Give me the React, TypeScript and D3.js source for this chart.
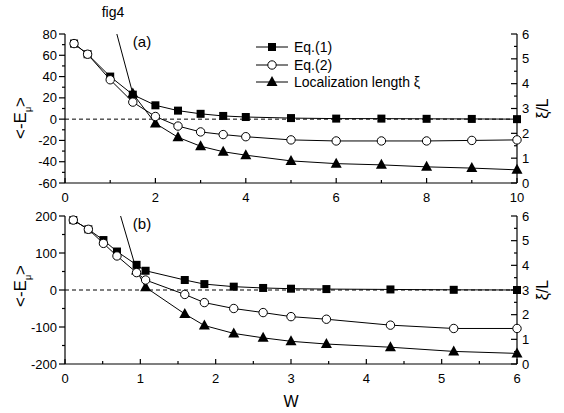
import React from 'react';
import * as d3 from 'd3';

// panel (a)
const wA = [0.2, 0.5, 1, 1.5, 2, 2.5, 3, 3.5, 4, 5, 6, 7, 8, 9, 10];
const eq1A = [71, 61, 40, 23, 13, 8, 5, 3, 2, 1, 0.5, 0.5, 0.3, 0.2, 0];
const eq2A = [71, 61, 37, 16, 2.5, -6.5, -12, -14.5, -16.5, -19.5, -20.5, -20.5, -20.5, -20, -19.5];
const xiWA = [1, 1.5, 2, 2.5, 3, 3.5, 4, 5, 6, 7, 8, 9, 10];
const xiA = [7.0, 3.6, 2.4, 1.84, 1.48, 1.26, 1.12, 0.89, 0.78, 0.73, 0.65, 0.6, 0.53];

// panel (b)
const wB = [0.11, 0.31, 0.51, 0.69, 0.95, 1.07, 1.59, 1.85, 2.24, 2.63, 3.0, 3.47, 4.32, 5.16, 6];
const eq1B = [189, 164, 135, 104, 68, 52, 27, 16, 9, 5.5, 3.5, 2.5, 1.5, 0.5, 0];
const eq2B = [189, 164, 126, 92, 47, 27, -12, -34, -50, -61, -72, -79, -95, -104, -104];
const xiWB = [0.69, 0.95, 1.07, 1.59, 1.85, 2.24, 2.63, 3.0, 3.47, 4.32, 5.16, 6];
const xiB = [6.5, 3.79, 3.11, 2.03, 1.56, 1.24, 1.06, 0.92, 0.81, 0.68, 0.51, 0.43];

const legendLabels = ['Eq.(1)', 'Eq.(2)', 'Localization length ξ'];

const FONT = 'Arial, "Liberation Sans", Helvetica, sans-serif';
const L = 65, R = 517;

type PanelProps = {
  id: string;
  top: number;
  bottom: number;
  xMax: number;
  xMajor: number;
  yDomain: [number, number];
  yMajor: number;
  w: number[];
  eq1: number[];
  eq2: number[];
  xiW: number[];
  xi: number[];
  tag: string;
  labelY: number;
};

const Square = ({ x, y }: { x: number; y: number }) => (
  <rect x={x - 4} y={y - 4} width={8} height={8} fill="black" />
);
const Circle = ({ x, y }: { x: number; y: number }) => (
  <circle cx={x} cy={y} r={4.2} fill="white" stroke="black" strokeWidth={1} />
);
const Tri = ({ x, y }: { x: number; y: number }) => (
  <path d={`M${x},${y - 6}L${x + 5.5},${y + 4}L${x - 5.5},${y + 4}Z`} fill="black" />
);

function Panel(p: PanelProps) {
  const x = d3.scaleLinear().domain([0, p.xMax]).range([L, R]);
  const y = d3.scaleLinear().domain(p.yDomain).range([p.bottom, p.top]);
  const y2 = d3.scaleLinear().domain([0, 6]).range([p.bottom, p.top]);

  const xMajors = d3.range(0, p.xMax + 1e-9, p.xMajor);
  const xMinors = d3.range(p.xMajor / 2, p.xMax, p.xMajor);
  const yMajors = d3.range(p.yDomain[0], p.yDomain[1] + 1e-9, p.yMajor);
  const yMinors = d3.range(p.yDomain[0] + p.yMajor / 2, p.yDomain[1], p.yMajor);
  const y2Majors = d3.range(0, 7, 1);
  const y2Minors = d3.range(0.5, 6, 1);

  const line = d3.line<[number, number]>();
  const p1 = p.w.map((w, i) => [x(w), y(p.eq1[i])] as [number, number]);
  const p2 = p.w.map((w, i) => [x(w), y(p.eq2[i])] as [number, number]);
  const p3 = p.xiW.map((w, i) => [x(w), y2(p.xi[i])] as [number, number]);

  return (
    <g>
      <defs>
        <clipPath id={`clip-${p.id}`}>
          <rect x={L} y={p.top} width={R - L} height={p.bottom - p.top} />
        </clipPath>
      </defs>
      {/* zero line */}
      <line x1={L} x2={R} y1={y(0)} y2={y(0)} stroke="black" strokeWidth={1} strokeDasharray="4,3" />

      {/* axes */}
      <g stroke="black" strokeWidth={1.2} fill="none">
        <line x1={L} x2={L} y1={p.top} y2={p.bottom} />
        <line x1={R} x2={R} y1={p.top} y2={p.bottom} />
        <line x1={L} x2={R} y1={p.bottom} y2={p.bottom} />
        {xMajors.map((v) => <line key={'xm' + v} x1={x(v)} x2={x(v)} y1={p.bottom} y2={p.bottom - 5} />)}
        {xMinors.map((v) => <line key={'xn' + v} x1={x(v)} x2={x(v)} y1={p.bottom} y2={p.bottom - 3} />)}
        {yMajors.map((v) => <line key={'ym' + v} x1={L - 6} x2={L} y1={y(v)} y2={y(v)} />)}
        {yMinors.map((v) => <line key={'yn' + v} x1={L - 3} x2={L} y1={y(v)} y2={y(v)} />)}
        {y2Majors.map((v) => <line key={'rm' + v} x1={R - 6} x2={R} y1={y2(v)} y2={y2(v)} />)}
        {y2Minors.map((v) => <line key={'rn' + v} x1={R - 3} x2={R} y1={y2(v)} y2={y2(v)} />)}
      </g>
      <g fontFamily={FONT} fontSize={13} fill="black">
        {xMajors.map((v) => (
          <text key={'xl' + v} x={x(v)} y={p.bottom + 19} textAnchor="middle">{d3.format('~g')(v)}</text>
        ))}
        {yMajors.map((v) => (
          <text key={'yl' + v} x={L - 8} y={y(v) + 4.5} textAnchor="end">{v}</text>
        ))}
        {y2Majors.map((v) => (
          <text key={'rl' + v} x={R + 5} y={y2(v) + 4.5} textAnchor="start">{v}</text>
        ))}
      </g>

      {/* series */}
      <path d={line(p1) || ''} fill="none" stroke="black" strokeWidth={1} />
      <path d={line(p2) || ''} fill="none" stroke="black" strokeWidth={1} />
      <g clipPath={`url(#clip-${p.id})`}>
        <path d={line(p3) || ''} fill="none" stroke="black" strokeWidth={1} />
      </g>
      {p1.map(([a, b], i) => <Square key={'s' + i} x={a} y={b} />)}
      {p3.filter(([, b]) => b >= p.top).map(([a, b], i) => <Tri key={'t' + i} x={a} y={b} />)}
      {p2.map(([a, b], i) => <Circle key={'c' + i} x={a} y={b} />)}

      <text x={142} y={(p.top + 13)} fontFamily={FONT} fontSize={15} textAnchor="middle">{p.tag}</text>

      {/* axis titles */}
      <text transform={`translate(26,${p.labelY}) rotate(-90)`} fontFamily={FONT} fontSize={17} textAnchor="middle">
        {'<-E'}<tspan fontSize={9} dy={5}>μ</tspan><tspan dy={-5}>{'>'}</tspan>
      </text>
      <text transform={`translate(548,${(p.top + p.bottom) / 2}) rotate(-90)`} fontFamily={FONT} fontSize={16} textAnchor="middle">
        ξ/L
      </text>
    </g>
  );
}

export default function App() {
  const legendY = [47, 65, 82];
  return (
    <svg width={564} height={413} style={{ position: 'absolute', left: 0, top: 0, background: 'white' }}>
      <rect width={564} height={413} fill="white" />
      <text x={113} y={17} fontFamily={FONT} fontSize={14} textAnchor="middle">fig4</text>
      <Panel id="a" top={34} bottom={183} xMax={10} xMajor={2} yDomain={[-60, 80]} yMajor={20}
        w={wA} eq1={eq1A} eq2={eq2A} xiW={xiWA} xi={xiA} tag="(a)" labelY={118} />
      <Panel id="b" top={216} bottom={364} xMax={6} xMajor={1} yDomain={[-200, 200]} yMajor={100}
        w={wB} eq1={eq1B} eq2={eq2B} xiW={xiWB} xi={xiB} tag="(b)" labelY={286} />

      {/* legend */}
      {legendLabels.map((lab, i) => (
        <g key={lab}>
          <line x1={256} x2={288} y1={legendY[i]} y2={legendY[i]} stroke="black" strokeWidth={1} />
          {i === 0 && <Square x={272} y={legendY[i]} />}
          {i === 1 && <Circle x={272} y={legendY[i]} />}
          {i === 2 && <Tri x={272} y={legendY[i]} />}
          <text x={294} y={legendY[i] + 5} fontFamily={FONT} fontSize={14}>{lab}</text>
        </g>
      ))}

      <text x={291} y={407} fontFamily={FONT} fontSize={16} textAnchor="middle">W</text>
    </svg>
  );
}
